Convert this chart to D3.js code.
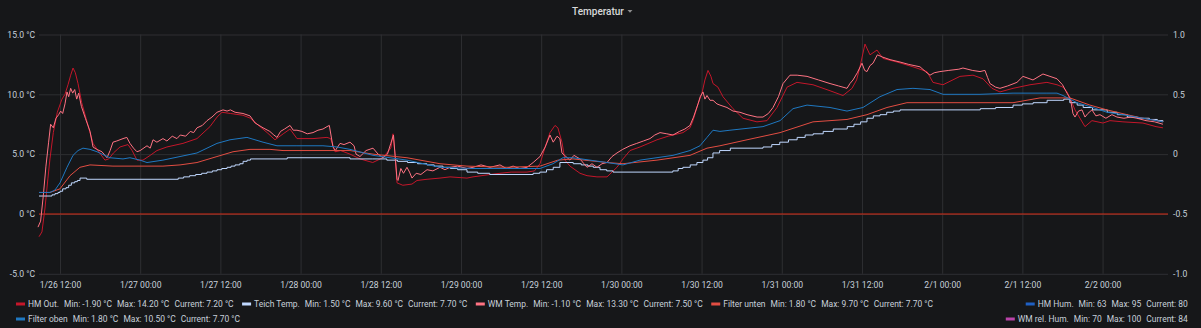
<!DOCTYPE html>
<html><head><meta charset="utf-8">
<script src="https://cdn.jsdelivr.net/npm/d3@7"></script>
<style>
html,body{margin:0;padding:0;background:#161719;}
svg{display:block;font-family:Roboto,"Noto Sans",sans-serif;}
</style></head><body>
<svg id="chart" width="1201" height="328"></svg>
<script>
// ---- data (hours since 2020-01-26 00:00, value in °C) ----
const title = "Temperatur";
const yTicksLeft = [-5, 0, 5, 10, 15];
const yTicksRight = [-1, -0.5, 0, 0.5, 1];
const thresholdValue = 0;

const seriesNames = ["HM Out.", "Teich Temp.", "WM Temp.", "Filter unten", "HM Hum.", "Filter oben", "WM rel. Hum."];
const seriesMin = ["-1.90 °C", "1.50 °C", "-1.10 °C", "1.80 °C", "63", "1.80 °C", "70"];
const seriesMax = ["14.20 °C", "9.60 °C", "13.30 °C", "9.70 °C", "95", "10.50 °C", "100"];
const seriesCur = ["7.20 °C", "7.70 °C", "7.50 °C", "7.70 °C", "80", "7.70 °C", "84"];

const hmOut = [[8.86,-1.9],[9.3,-1.5],[9.76,0.5],[10.2,3.0],[10.5,4.6],[11.0,6.8],[11.6,8.5],[12.3,9.6],[12.75,10.0],[13.2,10.8],[13.6,11.6],[13.95,12.2],[14.3,11.8],[14.7,10.9],[15.25,9.3],[16.0,7.8],[16.94,5.9],[17.8,5.2],[18.73,4.5],[19.3,4.6],[20.0,5.1],[20.98,5.6],[22.17,5.8],[22.8,5.3],[23.52,4.5],[24.42,4.5],[25.5,4.9],[26.51,5.3],[28.0,5.6],[30.4,5.9],[32.5,6.3],[34.44,7.3],[35.5,8.1],[36.24,8.5],[37.5,8.4],[39.38,8.25],[40.5,8.0],[41.93,7.3],[43.0,6.8],[44.17,6.2],[45.4,6.7],[46.42,7.1],[47.46,6.3],[49.86,6.3],[51.95,6.4],[52.5,6.3],[53.15,5.2],[54.0,5.3],[55.4,5.0],[56.9,4.6],[58.8,4.3],[60.3,4.7],[61.5,5.5],[61.83,6.7],[62.13,5.0],[62.43,2.6],[63.3,2.4],[64.67,2.5],[65.42,2.8],[66.92,2.9],[68.86,3.0],[70.36,3.1],[72.9,3.0],[73.8,3.1],[76.34,3.3],[77.84,3.4],[79.5,3.5],[81.88,3.5],[83.0,3.6],[83.82,4.2],[84.6,5.6],[85.32,6.8],[86.07,7.4],[86.5,7.2],[87.11,6.0],[87.56,4.5],[88.31,4.0],[89.81,3.4],[90.86,3.2],[92.35,3.1],[93.85,3.1],[95.34,3.9],[96.24,4.6],[97.29,5.3],[98.79,5.6],[101.33,6.2],[103.0,6.5],[105.22,6.8],[106.27,7.2],[106.72,7.8],[107.47,9.2],[108.06,10.1],[108.5,11.2],[108.96,12.0],[109.4,11.5],[109.71,10.9],[110.45,10.6],[111.2,9.8],[112.7,8.8],[114.2,8.0],[116.29,7.7],[117.79,7.8],[119.29,8.9],[120.79,10.6],[122.28,11.0],[124.67,10.8],[127.22,10.3],[129.16,9.9],[130.51,10.5],[131.2,11.2],[131.7,12.3],[132.45,14.2],[133.2,13.3],[134.25,13.7],[135.14,13.0],[137.24,12.7],[139.63,12.3],[141.73,11.9],[142.62,11.0],[144.12,10.8],[146.66,11.5],[148.61,11.6],[150.1,11.3],[151.45,10.5],[152.65,10.2],[154.6,10.5],[157.14,10.8],[159.68,11.0],[161.18,10.8],[162.08,10.6],[162.68,10.2],[163.12,9.7],[163.87,8.7],[165.37,7.3],[166.41,7.8],[168.06,7.6],[169.11,7.8],[171.05,7.7],[174.04,7.6],[176.0,7.3],[177.03,7.2]];

const teichTemp = [[8.86,1.5],[10.8,1.6],[11.25,1.7],[11.7,1.8],[12.0,1.9],[12.4,2.1],[12.9,2.2],[13.3,2.4],[13.7,2.6],[14.2,2.7],[14.6,2.8],[15.0,3.0],[16.0,2.9],[29.7,3.0],[30.5,3.1],[31.4,3.2],[32.3,3.3],[33.2,3.4],[34.0,3.5],[34.8,3.6],[35.5,3.7],[36.2,3.8],[37.0,3.9],[37.6,4.0],[38.2,4.1],[38.9,4.2],[39.4,4.4],[40.0,4.5],[40.5,4.6],[46.0,4.7],[55.4,4.6],[58.8,4.6],[60.9,4.5],[62.5,4.4],[64.0,4.3],[65.5,4.2],[66.9,4.1],[68.0,4.0],[69.3,3.9],[70.4,3.8],[71.5,3.7],[72.9,3.5],[74.5,3.4],[76.3,3.3],[82.8,3.4],[83.8,3.5],[84.8,3.7],[85.8,3.9],[86.8,4.3],[88.8,4.2],[90.0,4.1],[91.0,4.0],[91.8,3.9],[92.8,3.7],[93.8,3.6],[94.75,3.5],[103.7,3.6],[104.5,3.8],[105.2,3.9],[106.3,4.1],[107.3,4.3],[108.2,4.5],[108.9,4.7],[109.7,5.1],[110.7,5.3],[112.3,5.5],[117.2,5.6],[118.5,5.8],[119.7,6.0],[121.0,6.2],[122.3,6.4],[123.5,6.6],[124.7,6.7],[126.2,6.9],[127.7,7.1],[129.8,7.3],[130.8,7.5],[131.8,7.7],[132.75,8.0],[133.7,8.2],[134.7,8.3],[135.7,8.5],[136.7,8.6],[137.7,8.7],[149.7,8.8],[152.0,8.9],[154.6,9.1],[156.0,9.2],[157.6,9.3],[159.7,9.5],[162.2,9.6],[163.1,9.3],[164.2,9.1],[165.1,8.9],[166.5,8.7],[168.7,8.5],[170.2,8.3],[171.7,8.1],[173.2,8.0],[175.0,7.9],[176.2,7.8],[177.03,7.7]];

const wmTemp = [[8.71,-1.1],[9.1,-0.6],[9.5,1.5],[9.9,4.0],[10.3,6.0],[10.6,7.5],[11.0,7.2],[11.4,8.0],[11.8,8.3],[12.1,8.6],[12.4,8.4],[12.75,9.2],[13.05,10.2],[13.3,9.8],[13.6,10.5],[13.9,10.1],[14.2,10.4],[14.5,9.6],[14.8,10.1],[15.2,9.0],[15.8,8.0],[16.5,6.9],[16.94,5.6],[17.5,5.4],[18.28,5.2],[19.03,4.7],[19.5,5.3],[19.93,6.0],[20.5,6.1],[21.43,6.3],[22.0,6.4],[22.47,5.9],[23.0,5.5],[23.52,5.2],[24.0,5.3],[25.02,5.7],[25.5,5.5],[25.92,6.2],[26.5,6.0],[27.41,6.3],[28.0,6.1],[28.8,6.5],[29.5,6.3],[30.0,6.6],[30.8,6.5],[31.5,6.9],[32.0,6.8],[32.5,7.2],[33.3,7.4],[34.0,7.8],[34.74,8.1],[35.5,8.5],[36.39,8.7],[37.0,8.6],[37.5,8.7],[38.2,8.5],[39.38,8.4],[40.43,8.2],[41.2,7.6],[42.38,7.2],[43.4,6.9],[44.0,6.6],[44.47,6.4],[45.0,6.9],[45.6,7.1],[46.42,7.4],[46.9,7.0],[47.46,7.0],[48.2,6.9],[49.0,6.7],[49.86,6.8],[50.6,7.0],[51.35,7.1],[51.95,7.3],[52.3,7.4],[52.85,5.6],[53.2,5.3],[53.9,5.9],[54.5,5.8],[55.39,6.0],[56.0,5.7],[56.3,5.0],[56.89,4.8],[57.8,5.3],[58.84,5.5],[59.6,5.0],[60.33,4.7],[61.0,5.0],[61.5,5.9],[61.9,6.6],[62.2,4.5],[62.43,2.9],[62.58,2.8],[63.0,3.8],[63.4,3.4],[63.92,3.9],[64.3,3.5],[64.67,3.0],[65.3,3.4],[66.0,3.3],[66.92,3.7],[67.8,3.6],[68.86,3.9],[69.6,3.7],[70.36,3.9],[71.5,4.0],[72.9,3.8],[73.8,3.9],[75.0,4.1],[76.34,3.9],[77.84,4.1],[78.8,3.8],[79.8,4.0],[80.8,3.8],[81.88,3.9],[82.8,4.3],[83.82,4.8],[84.6,5.6],[85.32,6.6],[85.8,6.0],[86.37,6.5],[86.8,6.3],[87.11,5.1],[87.5,4.9],[88.31,4.5],[88.9,4.9],[89.81,4.6],[90.4,4.2],[90.86,3.9],[91.6,4.2],[92.35,3.9],[93.1,4.2],[93.85,4.3],[94.6,4.8],[95.34,5.1],[96.2,5.4],[97.29,5.7],[98.3,5.9],[99.3,6.1],[100.28,6.3],[101.0,6.6],[101.78,6.8],[102.8,6.7],[103.72,6.6],[104.7,6.9],[105.5,7.1],[106.27,7.4],[106.8,8.1],[107.47,9.2],[107.8,9.8],[108.21,10.2],[108.5,9.6],[108.81,9.9],[109.26,9.5],[109.71,9.5],[110.3,9.2],[110.75,9.1],[111.8,8.9],[112.7,8.6],[113.75,8.5],[114.8,8.3],[116.3,8.1],[117.19,8.1],[118.0,8.4],[118.69,8.9],[119.5,9.8],[120.19,10.9],[121.23,11.6],[122.3,11.6],[123.78,11.5],[125.5,11.2],[127.22,10.9],[128.5,10.7],[129.76,10.5],[130.2,10.9],[130.66,11.2],[131.3,11.8],[132.0,12.6],[132.4,12.0],[132.75,11.9],[133.2,12.4],[133.65,12.6],[134.3,13.3],[135.14,13.1],[136.2,12.9],[137.69,12.7],[139.0,12.5],[140.68,12.3],[141.5,11.9],[142.18,11.6],[142.8,11.8],[143.67,11.9],[145.0,12.0],[146.5,12.1],[147.11,12.2],[148.5,12.0],[149.66,11.9],[150.4,12.0],[150.8,11.4],[151.15,10.9],[152.0,10.6],[152.65,10.5],[153.8,10.7],[155.19,11.0],[156.09,11.5],[157.59,11.2],[159.08,11.7],[160.13,11.5],[161.18,11.3],[162.0,10.8],[162.68,10.1],[163.2,9.6],[163.57,8.4],[163.87,8.1],[164.4,8.6],[164.92,8.7],[165.37,8.1],[165.8,8.4],[166.41,8.7],[167.0,8.2],[167.61,8.3],[168.5,8.0],[169.4,8.3],[170.15,8.1],[171.2,8.0],[172.2,8.1],[173.15,8.0],[174.5,7.8],[175.8,7.7],[177.03,7.5]];

const filterUnten = [[8.86,1.8],[10.5,1.8],[12.0,2.1],[13.5,3.2],[14.99,3.9],[16.49,4.1],[19.93,4.0],[27.41,4.0],[29.96,4.1],[32.5,4.3],[35.49,4.8],[37.89,5.2],[40.43,5.4],[43.42,5.4],[45.37,5.3],[55.39,5.3],[58.84,5.0],[63.92,4.7],[68.86,4.2],[72.9,4.0],[78.89,3.9],[83.82,4.0],[86.5,4.5],[88.76,4.6],[93.85,4.3],[96.24,4.2],[101.33,4.5],[106.27,4.9],[108.81,5.5],[110.75,5.7],[114.8,6.2],[119.74,6.8],[124.67,7.7],[129.76,7.9],[132.75,8.3],[135.74,8.9],[138.73,9.3],[144.72,9.3],[154.6,9.3],[158.64,9.7],[162.08,9.7],[163.12,9.7],[166.11,9.1],[168.66,8.7],[171.65,8.3],[174.04,8.0],[177.03,7.7]];

const filterOben = [[8.86,1.8],[10.5,1.8],[11.25,2.0],[12.0,2.6],[13.05,3.9],[13.95,4.9],[14.7,5.3],[15.44,5.5],[16.5,5.4],[17.54,5.2],[19.48,4.7],[21.43,4.6],[22.47,4.7],[23.97,4.5],[25.02,4.3],[27.41,4.5],[29.96,4.8],[32.5,5.1],[35.49,5.9],[37.44,6.2],[39.98,6.4],[42.38,6.0],[44.47,5.7],[47.46,5.7],[51.35,5.7],[53.45,5.6],[55.39,5.4],[58.84,4.9],[63.92,4.5],[68.86,3.9],[73.8,3.8],[78.89,3.8],[83.82,3.8],[85.77,4.2],[87.26,4.7],[88.76,4.7],[93.85,4.3],[96.24,4.1],[98.79,4.5],[103.72,4.9],[106.27,5.3],[107.76,5.7],[108.81,6.4],[109.71,7.0],[110.75,6.9],[112.25,7.0],[117.19,7.3],[119.74,7.8],[121.68,8.8],[123.78,9.1],[127.22,8.9],[129.76,8.6],[132.15,8.9],[134.69,9.8],[137.24,10.4],[139.63,10.5],[142.18,10.4],[144.12,10.0],[149.66,10.0],[154.6,10.1],[159.68,10.1],[161.18,10.1],[162.08,9.9],[164.17,9.3],[166.56,8.9],[168.66,8.5],[171.05,8.3],[174.04,8.0],[177.03,7.7]];

// ---- setup ----
const W = 1201, H = 328;
const margin = {left: 39, right: 1168, top: 34.5, bottom: 273.8};
const base = Date.UTC(2020, 0, 26);
const t = h => new Date(base + h * 3600e3);
const FS = 8.6;
const LFS = 8.48;

const svg = d3.select("#chart");
svg.append("rect").attr("width", W).attr("height", H).attr("fill", "#161719");

const x = d3.scaleUtc().domain([t(8.86), t(177.79)]).range([margin.left, margin.right]);
const y = d3.scaleLinear().domain([-5, 15]).range([margin.bottom, margin.top]);
const y2 = d3.scaleLinear().domain([-1, 1]).range([margin.bottom, margin.top]);

const gridColor = "#2e2f32";
const textColor = "#c7d0d9";

// Title
const titleG = svg.append("g");
titleG.append("text").attr("x", 598).attr("y", 14.5).attr("text-anchor", "middle")
  .attr("fill", "#d8d9da").attr("font-size", 10).attr("font-weight", 500).text(title);
titleG.append("path").attr("d", "M627.5,10 L632.5,10 L630,12.8 Z").attr("fill", "#8e8e8e");

// Axes
const xAxis = d3.axisBottom(x).ticks(d3.utcHour.every(12)).tickFormat(d3.utcFormat("%-m/%-d %H:%M"))
  .tickSize(-(margin.bottom - margin.top)).tickPadding(8);
const gx = svg.append("g").attr("transform", `translate(0,${margin.bottom})`).call(xAxis);
gx.select(".domain").remove();
gx.selectAll(".tick line").attr("stroke", gridColor);
gx.selectAll(".tick text").attr("fill", textColor).attr("font-size", FS).attr("font-family", "Roboto");

const yAxis = d3.axisLeft(y).tickValues(yTicksLeft)
  .tickFormat(v => v === 0 ? "0 °C" : v.toFixed(1) + " °C")
  .tickSize(-(margin.right - margin.left)).tickPadding(4);
const gy = svg.append("g").attr("transform", `translate(${margin.left},0)`).call(yAxis);
gy.select(".domain").remove();
gy.selectAll(".tick line").attr("stroke", gridColor);
gy.selectAll(".tick text").attr("fill", textColor).attr("font-size", FS).attr("font-family", "Roboto");

const yAxis2 = d3.axisRight(y2).tickValues(yTicksRight)
  .tickFormat(v => v === 0 ? "0" : v.toFixed(1)).tickSize(0).tickPadding(5);
const gy2 = svg.append("g").attr("transform", `translate(${margin.right},0)`).call(yAxis2);
gy2.select(".domain").remove();
gy2.selectAll(".tick text").attr("fill", textColor).attr("font-size", FS).attr("font-family", "Roboto");

// Threshold line
svg.append("line").attr("x1", margin.left).attr("x2", margin.right)
  .attr("y1", y(thresholdValue)).attr("y2", y(thresholdValue))
  .attr("stroke", "rgba(237,46,24,0.6)").attr("stroke-width", 1.5);

// Series
const line = d3.line().x(d => x(t(d[0]))).y(d => y(d[1]));
const stepLine = d3.line().x(d => x(t(d[0]))).y(d => y(d[1])).curve(d3.curveStepAfter);
const colors = ["#C4162A", "#C0D8FF", "#FF7383", "#E24D42", "#1F60C4", "#1F78C1", "#BA43A9"];

const plotted = [
  {data: hmOut, color: colors[0], gen: line},
  {data: teichTemp, color: colors[1], gen: stepLine},
  {data: wmTemp, color: colors[2], gen: line},
  {data: filterUnten, color: colors[3], gen: line},
  {data: filterOben, color: colors[5], gen: line}
];
svg.append("g").selectAll("path").data(plotted).join("path")
  .attr("d", d => d.gen(d.data)).attr("fill", "none")
  .attr("stroke", d => d.color).attr("stroke-width", 1).attr("stroke-linejoin", "round");

// Legend
const lg = svg.append("g").attr("font-size", LFS).attr("fill", textColor);
function legendItem(i, xPos, yPos, anchor) {
  const g = lg.append("g");
  const tx = g.append("text").attr("y", yPos).attr("dy", "0.35em");
  tx.append("tspan").text(seriesNames[i]);
  tx.append("tspan").attr("dx", 5).text("Min: " + seriesMin[i]);
  tx.append("tspan").attr("dx", 5).text("Max: " + seriesMax[i]);
  tx.append("tspan").attr("dx", 5).text("Current: " + seriesCur[i]);
  tx.attr("x", 0);
  const w = tx.node().getBBox().width;
  const x0 = anchor === "start" ? xPos : xPos - (w + 12);
  g.append("rect").attr("x", x0).attr("y", yPos - 1.5).attr("width", 9).attr("height", 3).attr("fill", colors[i]);
  tx.attr("x", x0 + 12);
  return x0 + 12 + w;
}
let cx = 16;
[0, 1, 2, 3].forEach(i => { cx = legendItem(i, cx, 304, "start") + 8; });
legendItem(4, 1188, 304, "end");
legendItem(5, 16, 319, "start");
legendItem(6, 1188, 319, "end");
</script>
</body></html>
